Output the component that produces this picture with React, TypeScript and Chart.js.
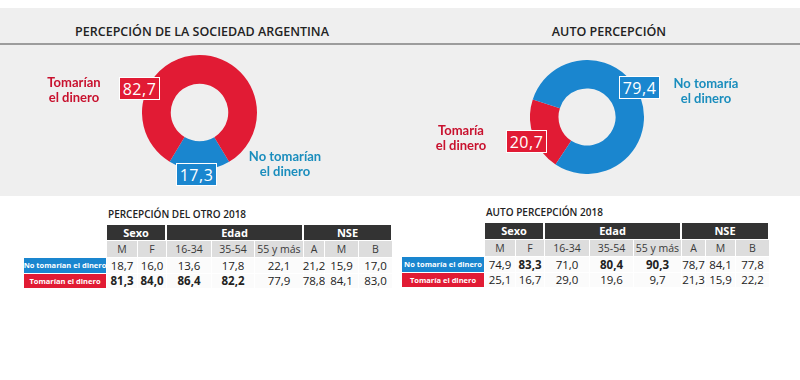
import React, { useEffect, useRef } from 'react';
import { Chart, registerables } from 'chart.js';

Chart.register(...registerables);

// ---------- data ----------
const sociedadLabels = ['No tomarían el dinero', 'Tomarían el dinero'];
const sociedadValues = [17.3, 82.7];
const autoLabels = ['Tomaría el dinero', 'No tomaría el dinero'];
const autoValues = [20.7, 79.4];

const groupNames = ['Sexo', 'Edad', 'NSE'];
const groupSpans = [2, 3, 3];
const subColumns = ['M', 'F', '16-34', '35-54', '55 y más', 'A', 'M', 'B'];

const otroNoValues = [18.7, 16.0, 13.6, 17.8, 22.1, 21.2, 15.9, 17.0];
const otroNoBold = [false, false, false, false, false, false, false, false];
const otroSiValues = [81.3, 84.0, 86.4, 82.2, 77.9, 78.8, 84.1, 83.0];
const otroSiBold = [true, true, true, true, false, false, false, false];

const autoNoValues = [74.9, 83.3, 71.0, 80.4, 90.3, 78.7, 84.1, 77.8];
const autoNoBold = [false, true, false, true, true, false, false, false];
const autoSiValues = [25.1, 16.7, 29.0, 19.6, 9.7, 21.3, 15.9, 22.2];
const autoSiBold = [false, false, false, false, false, false, false, false];

// ---------- styles ----------
const RED = '#e11b34';
const BLUE = '#1a86cf';
const RED_TEXT = '#c8112e';
const BLUE_TEXT = '#1a8dbd';
const FONT = '"Open Sans", "Noto Sans", sans-serif';
const LABEL_FONT = 'Lato, "Open Sans", sans-serif';

const fmt = (v: number) => v.toFixed(1).replace('.', ',');

function Donut(props: { labels: string[]; values: number[]; colors: string[]; rotation: number; left: number; top: number; size: number }) {
  const ref = useRef<HTMLCanvasElement>(null);
  useEffect(() => {
    if (!ref.current) return;
    const chart = new Chart(ref.current, {
      type: 'doughnut',
      data: {
        labels: props.labels,
        datasets: [{ data: props.values, backgroundColor: props.colors, borderWidth: 0 }],
      },
      options: {
        animation: false,
        responsive: false,
        maintainAspectRatio: false,
        cutout: '50%',
        rotation: props.rotation,
        layout: { padding: 0 },
        plugins: { legend: { display: false }, tooltip: { enabled: false } },
      },
    });
    return () => chart.destroy();
  }, []);
  return (
    <canvas
      ref={ref}
      width={props.size}
      height={props.size}
      style={{ position: 'absolute', left: props.left, top: props.top, width: props.size, height: props.size }}
    />
  );
}

function ValueBox(props: { value: number; color: string; left: number; top: number }) {
  return (
    <div
      style={{
        position: 'absolute', left: props.left, top: props.top, width: 41, height: 23, boxSizing: 'border-box',
        background: props.color, border: '1px solid #fff', color: '#fff', font: `400 16px/18px ${FONT}`,
        display: 'flex', alignItems: 'center', justifyContent: 'center', letterSpacing: 0.5,
      }}
    >
      {fmt(props.value)}
    </div>
  );
}

function SliceLabel(props: { text: string; color: string; centerX: number; top: number; lineHeight: number }) {
  const words = props.text.split(' ');
  const line1 = words.slice(0, words.length - 2).join(' ');
  const line2 = words.slice(words.length - 2).join(' ');
  return (
    <div
      style={{
        position: 'absolute', left: props.centerX - 70, top: props.top, width: 140, textAlign: 'center',
        color: props.color, font: `700 13px/${props.lineHeight}px ${LABEL_FONT}`,
      }}
    >
      <div>{line1}</div>
      <div>{line2}</div>
    </div>
  );
}

function DataTable(props: {
  title: string; x: number; y: number; labelWidth: number; colWidths: number[]; rowHeights: number[];
  rowLabels: string[]; rowColors: string[]; rowValues: number[][]; rowBold: boolean[][];
}) {
  const { x, y, labelWidth, colWidths, rowHeights } = props;
  const cells: any[] = [];
  const colX: number[] = [];
  let cx = x + labelWidth;
  colWidths.forEach((w) => { colX.push(cx); cx += w; });
  const rowY: number[] = [];
  let cy = y;
  rowHeights.forEach((h) => { rowY.push(cy); cy += h; });

  let ci = 0;
  groupNames.forEach((g, gi) => {
    const span = groupSpans[gi];
    const gx = colX[ci];
    const gw = colWidths.slice(ci, ci + span).reduce((a, b) => a + b, 0);
    cells.push(
      <div key={'g' + gi} style={{
        position: 'absolute', left: gx, top: rowY[0], width: gw - 2, height: rowHeights[0] - 1,
        background: '#333333', color: '#fff', font: `700 11px/12px ${FONT}`, display: 'flex', alignItems: 'center', justifyContent: 'center',
      }}>{g}</div>
    );
    ci += span;
  });
  subColumns.forEach((s, i) => {
    cells.push(
      <div key={'s' + i} style={{
        position: 'absolute', left: colX[i], top: rowY[1], width: colWidths[i] - 1, height: rowHeights[1] - 1,
        background: '#dddddd', color: '#3a3a3a', font: `400 10.5px/12px ${FONT}`, display: 'flex', alignItems: 'center', justifyContent: 'center', whiteSpace: 'nowrap',
      }}>{s}</div>
    );
  });
  props.rowValues.forEach((vals, r) => {
    const ry = rowY[2 + r];
    const rh = rowHeights[2 + r];
    cells.push(
      <div key={'l' + r} style={{
        position: 'absolute', left: x, top: ry, width: labelWidth - 1, height: rh - 1,
        background: props.rowColors[r], color: '#fff', font: `700 7.5px/9px ${FONT}`, display: 'flex', alignItems: 'center', justifyContent: 'center', whiteSpace: 'nowrap',
      }}>{props.rowLabels[r]}</div>
    );
    vals.forEach((v, i) => {
      cells.push(
        <div key={'v' + r + '-' + i} style={{
          position: 'absolute', left: colX[i], top: ry, width: colWidths[i] - 1, height: rh - 1,
          background: '#fbfbfb', color: '#222', font: `${props.rowBold[r][i] ? 700 : 400} 11.5px/12px ${FONT}`,
          display: 'flex', alignItems: 'center', justifyContent: 'center',
        }}>{fmt(v)}</div>
      );
    });
  });
  return (
    <>
      <div style={{ position: 'absolute', left: x + labelWidth + 1, top: y - 18, color: '#222', font: `600 10px ${FONT}`, whiteSpace: 'nowrap' }}>{props.title}</div>
      {cells}
    </>
  );
}

export default function App() {
  return (
    <div style={{ position: 'fixed', left: 0, top: 0, width: 800, height: 380, background: '#fff', overflow: 'hidden' }}>
      <div style={{ position: 'absolute', left: 0, top: 8, width: 800, height: 188, background: '#efefef' }} />
      <div style={{ position: 'absolute', left: 0, top: 43, width: 800, height: 2, background: '#9c9c9c' }} />

      <div style={{ position: 'absolute', left: 2, top: 23, width: 400, textAlign: 'center', color: '#222', font: `600 12.5px ${FONT}` }}>
        PERCEPCIÓN DE LA SOCIEDAD ARGENTINA
      </div>
      <div style={{ position: 'absolute', left: 409, top: 23, width: 400, textAlign: 'center', color: '#222', font: `600 12.5px ${FONT}` }}>
        AUTO PERCEPCIÓN
      </div>

      <Donut labels={sociedadLabels} values={sociedadValues} colors={[BLUE, RED]} rotation={149} left={142} top={55} size={115} />
      <Donut labels={autoLabels} values={autoValues} colors={[RED, BLUE]} rotation={213.5} left={530} top={60} size={114} />

      <ValueBox value={sociedadValues[1]} color={RED} left={119} top={77} />
      <ValueBox value={sociedadValues[0]} color={BLUE} left={176} top={163} />
      <ValueBox value={autoValues[1]} color={BLUE} left={619} top={76} />
      <ValueBox value={autoValues[0]} color={RED} left={506} top={130} />

      <SliceLabel text={sociedadLabels[1]} color={RED_TEXT} centerX={74} top={75} lineHeight={15} />
      <SliceLabel text={sociedadLabels[0]} color={BLUE_TEXT} centerX={285} top={149} lineHeight={15} />
      <SliceLabel text={autoLabels[1]} color={BLUE_TEXT} centerX={706} top={76} lineHeight={15} />
      <SliceLabel text={autoLabels[0]} color={RED_TEXT} centerX={461} top={123} lineHeight={15} />

      <DataTable
        title="PERCEPCIÓN DEL OTRO 2018" x={24} y={225} labelWidth={83}
        colWidths={[31, 29, 45, 43, 49, 21, 34, 34]} rowHeights={[16, 17, 16, 15]}
        rowLabels={['No tomarían el dinero', 'Tomarían el dinero']} rowColors={[BLUE, RED]}
        rowValues={[otroNoValues, otroSiValues]} rowBold={[otroNoBold, otroSiBold]}
      />
      <DataTable
        title="AUTO PERCEPCIÓN 2018" x={402} y={223} labelWidth={83}
        colWidths={[31, 29, 45, 44, 48, 24, 30, 34]} rowHeights={[17, 17, 16, 15]}
        rowLabels={['No tomaría el dinero', 'Tomaría el dinero']} rowColors={[BLUE, RED]}
        rowValues={[autoNoValues, autoSiValues]} rowBold={[autoNoBold, autoSiBold]}
      />
    </div>
  );
}
